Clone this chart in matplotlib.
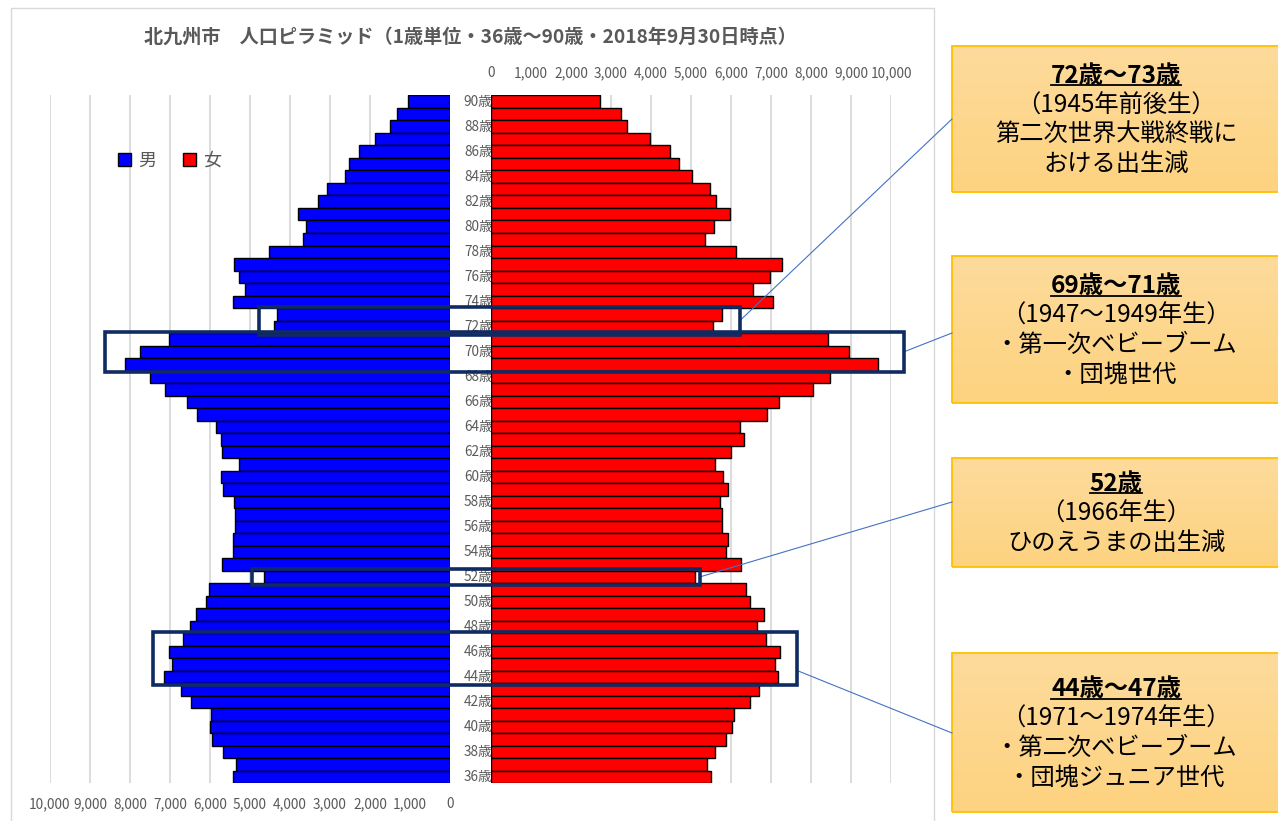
"""北九州市の人口ピラミッド（1歳単位、36〜90歳）に注目世代の注記を付けた図。"""

import matplotlib

matplotlib.use("Agg")
import matplotlib.pyplot as plt
import numpy as np
from matplotlib.lines import Line2D
from matplotlib.patches import Patch, Rectangle
from matplotlib.ticker import FuncFormatter

plt.rcParams["font.family"] = ["Noto Sans CJK JP", "DejaVu Sans"]

W, H, DPI = 1278, 821, 100

TITLE = "北九州市　人口ピラミッド（1歳単位・36歳～90歳・2018年9月30日時点）"

ages = list(range(90, 35, -1))
male = [1042, 1325, 1492, 1875, 2275, 2533, 2625, 3075, 3300, 3800, 3600, 3683, 4533, 5392, 5275,
        5125, 5433, 4333, 4400,
        7025, 7742, 8133, 7500, 7125, 6575, 6325, 5850, 5725, 5692, 5283, 5733, 5683, 5400, 5383,
        5383, 5417, 5433, 5692,
        4642, 6025, 6100, 6350, 6492, 6675, 7025, 6950, 7158, 6733, 6483, 5975, 6000, 5950, 5675,
        5350, 5433]
female = [2725, 3250, 3392, 3967, 4483, 4692, 5025, 5475, 5625, 5967, 5575, 5342, 6117, 7283, 6975,
          6542, 7058, 5767, 5550,
          8433, 8958, 9675, 8475, 8058, 7200, 6908, 6233, 6325, 6008, 5600, 5792, 5933, 5725, 5775,
          5783, 5933, 5883, 6242,
          5092, 6375, 6483, 6817, 6650, 6883, 7225, 7108, 7175, 6700, 6475, 6067, 6033, 5883, 5608,
          5400, 5492]
age_ticks = list(range(90, 35, -2))
x_ticks = list(range(0, 10001, 1000))

# 注目する世代: 年齢の範囲と、枠が左右へ伸びる位置（人数の単位）
hl_age_lo = [72, 69, 52, 44]
hl_age_hi = [73, 71, 52, 47]
hl_male_ext = [4775, 8625, 4950, 7425]
hl_female_ext = [6225, 10325, 5225, 7660]
hl_link_age = [72.5, 70, 52, 44.5]

notes = [
    ["72歳～73歳", "（1945年前後生）", "第二次世界大戦終戦に", "おける出生減"],
    ["69歳～71歳", "（1947～1949年生）", "・第一次ベビーブーム", "・団塊世代"],
    ["52歳", "（1966年生）", "ひのえうまの出生減"],
    ["44歳～47歳", "（1971～1974年生）", "・第二次ベビーブーム", "・団塊ジュニア世代"],
]
# 注記ボックスの位置（ピクセル, 上端・下端）と引き出し線の到達点
note_top = [46, 256, 458, 653]
note_bot = [192, 403, 567, 812]
note_link_y = [119, 333, 502, 733]
NOTE_L, NOTE_R = 952, 1282

GRAY = "#595959"
NAVY = "#0F2B62"


def fx(px):
    return px / W


def fy(py):
    return 1 - py / H


fig = plt.figure(figsize=(W / DPI, H / DPI), dpi=DPI)

# 外枠
fig.add_artist(Rectangle((fx(11), fy(830)), fx(934) - fx(11), fy(8) - fy(830),
                         transform=fig.transFigure, fill=False, edgecolor="#D9D9D9", lw=1.0))

fig.text(fx(470), fy(37), TITLE, ha="center", va="center", fontsize=13.8,
         weight="bold", color=GRAY)

AX_TOP, AX_BOT = 95.45, 783.2
ax_m = fig.add_axes([fx(50), fy(AX_BOT), 400 / W, (AX_BOT - AX_TOP) / H])
ax_f = fig.add_axes([fx(491), fy(AX_BOT), 400 / W, (AX_BOT - AX_TOP) / H])

fmt = FuncFormatter(lambda v, _: f"{int(v):,}")
for ax, vals, col in ((ax_m, male, "#0000FF"), (ax_f, female, "#FF0000")):
    ax.barh(ages, vals, height=1.0, color=col, edgecolor="black", linewidth=1.0, zorder=3)
    ax.set_facecolor("none")
    ax.set_ylim(35.5, 90.5)
    ax.set_xticks(x_ticks)
    ax.xaxis.set_major_formatter(fmt)
    ax.grid(axis="x", color="#D9D9D9", lw=1.3, zorder=0)
    ax.set_axisbelow(True)
    ax.set_yticks([])
    for s in ax.spines.values():
        s.set_visible(False)
    ax.tick_params(axis="x", length=0, labelsize=9.8, labelcolor=GRAY)

ax_m.set_xlim(10000, 0)
ax_m.tick_params(axis="x", pad=10)
ax_f.set_xlim(0, 10000)
ax_f.xaxis.tick_top()
ax_f.tick_params(axis="x", pad=11)

for a in age_ticks:
    ax_f.text(0.004, a, f"{a}歳", transform=ax_f.get_yaxis_transform(), ha="right",
              va="center", fontsize=9.8, color=GRAY, zorder=1)

fig.legend(handles=[Patch(facecolor="#0000FF", edgecolor="black", label="男"),
                    Patch(facecolor="#FF0000", edgecolor="black", label="女")],
           loc="center left", bbox_to_anchor=(fx(118), fy(161)), ncol=2, frameon=False,
           fontsize=13, handlelength=0.7, handleheight=0.7, handletextpad=0.4,
           columnspacing=1.5, borderpad=0, borderaxespad=0, labelcolor=GRAY)

# 注目世代の枠と引き出し線
to_fig = fig.transFigure.inverted()
pad = 0.12
for i in range(len(hl_age_lo)):
    x0, y0 = to_fig.transform(ax_m.transData.transform((hl_male_ext[i], hl_age_lo[i] - 0.5 - pad)))
    x1, y1 = to_fig.transform(ax_f.transData.transform((hl_female_ext[i], hl_age_hi[i] + 0.5 + pad)))
    fig.add_artist(Rectangle((x0, y0), x1 - x0, y1 - y0, transform=fig.transFigure,
                             fill=False, edgecolor=NAVY, lw=2.6, zorder=5))
    _, ly = to_fig.transform(ax_f.transData.transform((0, hl_link_age[i])))
    fig.add_artist(Line2D([x1, fx(NOTE_L)], [ly, fy(note_link_y[i])], transform=fig.transFigure,
                          color="#4472C4", lw=0.8, zorder=4))

# 注記ボックス（縦グラデーション）
grad = np.linspace(0, 1, 64)[:, None, None]
top_c = np.array([254, 219, 156]) / 255
bot_c = np.array([253, 211, 128]) / 255
grad_img = top_c * (1 - grad) + bot_c * grad

bold_lines = []
for i, lines in enumerate(notes):
    t, b = note_top[i], note_bot[i]
    bax = fig.add_axes([fx(NOTE_L), fy(b), (NOTE_R - NOTE_L) / W, (b - t) / H])
    bax.imshow(grad_img, aspect="auto", extent=(0, 1, 0, 1), interpolation="bilinear")
    bax.set_axis_off()
    bax.add_patch(Rectangle((0, 0), 1, 1, transform=bax.transAxes, fill=False,
                            edgecolor="#FFC000", lw=1.3, clip_on=False))
    cy = (t + b) / 2
    n = len(lines)
    for j, line in enumerate(lines):
        base = cy + (j - (n - 1) / 2) * 29.5 + 8
        txt = fig.text(fx(1116), fy(base), line, ha="center", va="baseline", fontsize=17.5,
                       weight="bold" if j == 0 else "normal", color="black")
        if j == 0:
            bold_lines.append((txt, base))

# 見出し行に下線
fig.canvas.draw()
for txt, base in bold_lines:
    bb = txt.get_window_extent()
    fig.add_artist(Line2D([bb.x0 / W, bb.x1 / W], [fy(base + 2.5)] * 2,
                          transform=fig.transFigure, color="black", lw=1.3))

fig.savefig("out.png", dpi=DPI)
plt.close(fig)
